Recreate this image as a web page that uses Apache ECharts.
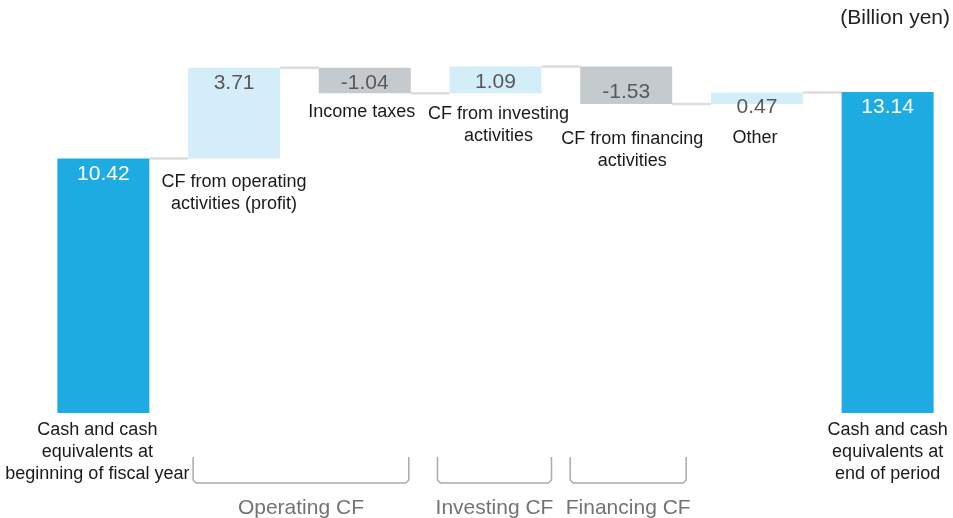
<!DOCTYPE html>
<html>
<head>
<meta charset="utf-8">
<script src="https://cdn.jsdelivr.net/npm/echarts@6/dist/echarts.min.js"></script>
<style>
  html, body { margin: 0; padding: 0; background: #ffffff; }
  #chart { width: 953px; height: 518px; }
</style>
</head>
<body>
<div id="chart"></div>
<script>
// data
var categories = [
    "Cash and cash\nequivalents at\nbeginning of fiscal year",
    "CF from operating\nactivities (profit)",
    "Income taxes",
    "CF from investing\nactivities",
    "CF from financing\nactivities",
    "Other",
    "Cash and cash\nequivalents at\nend of period"
];
var values = [10.42, 3.71, -1.04, 1.09, -1.53, 0.47, 13.14];
var isTotal = [true, false, false, false, false, false, true];
var groupNames = ["Operating CF", "Investing CF", "Financing CF"];
var groupStart = [1, 3, 4];
var groupEnd = [2, 3, 4];

// styling per bar / group
var labelGap = [6, 13, 8, 10, 24, 23, 6];
var labelShiftX = [-6, 0, -3, 3, 6, -2, 0];
var valueLabelPos = ["insideTop", "insideTop", "insideTop", "insideTop", "insideBottom", "insideTop", "insideTop"];
var valueLabelDist = [5, 5, 5, 5, 1, 4, 5];
var bracketPadL = [41, 58, 56];
var bracketPadR = [44, 56, 60];

function buildChart() {
    var myChart = echarts.init(document.getElementById("chart"));

    var BAR_W = 92;
    var FONT = "Liberation Sans, Arial, sans-serif";

    // waterfall: transparent base + visible bar
    var base = [], shown = [], bottoms = [], levels = [];
    var cum = 0;
    for (var i = 0; i < values.length; i++) {
        var v = values[i];
        var color, labelColor, h;
        if (isTotal[i]) {
            base.push(0);
            h = v;
            bottoms.push(0);
            cum = v;
            color = "#1eabe2";
            labelColor = "#ffffff";
        } else {
            var after = cum + v;
            base.push(Math.min(cum, after));
            h = Math.abs(v);
            bottoms.push(Math.min(cum, after));
            cum = after;
            color = v >= 0 ? "#d4eef9" : "#c5cace";
            labelColor = "#595959";
        }
        levels.push(cum);
        shown.push({
            value: h,
            itemStyle: { color: color },
            label: {
                position: valueLabelPos[i],
                distance: valueLabelDist[i],
                color: labelColor,
                formatter: v.toFixed(2)
            }
        });
    }

    var labelData = [], connData = [], bracketData = [];
    for (var i = 0; i < categories.length; i++) {
        labelData.push([i, bottoms[i], i]);
    }
    for (var i = 0; i < values.length - 1; i++) {
        connData.push([i, levels[i]]);
    }
    for (var g = 0; g < groupNames.length; g++) {
        bracketData.push([groupStart[g], groupEnd[g], g]);
    }

    var option = {
        animation: false,
        title: {
            text: "(Billion yen)",
            right: -2,
            top: 3,
            textStyle: { fontFamily: FONT, fontSize: 21, fontWeight: "normal", color: "#222222" }
        },
        grid: { left: 38, right: 0, top: 46.5, bottom: 105 },
        xAxis: {
            type: "category",
            data: categories,
            show: false
        },
        yAxis: {
            type: "value",
            min: 0,
            max: 15,
            show: false
        },
        series: [
            {
                name: "base",
                type: "bar",
                stack: "wf",
                barWidth: BAR_W,
                itemStyle: { color: "transparent" },
                data: base,
                silent: true
            },
            {
                name: "value",
                type: "bar",
                stack: "wf",
                barWidth: BAR_W,
                label: {
                    show: true,
                    fontFamily: FONT,
                    fontSize: 21
                },
                data: shown
            },
            {
                // connectors between bars
                name: "conn",
                type: "custom",
                silent: true,
                data: connData,
                renderItem: function (params, api) {
                    var idx = api.value(0);
                    var lv = api.value(1);
                    var p1 = api.coord([idx, lv]);
                    var p2 = api.coord([idx + 1, lv]);
                    return {
                        type: "line",
                        shape: { x1: p1[0] + BAR_W / 2, y1: p1[1], x2: p2[0] - BAR_W / 2, y2: p2[1] },
                        style: { stroke: "#dcdcdc", lineWidth: 2.5 }
                    };
                }
            },
            {
                // category labels under each bar
                name: "names",
                type: "custom",
                silent: true,
                data: labelData,
                renderItem: function (params, api) {
                    var idx = api.value(0);
                    var p = api.coord([idx, api.value(1)]);
                    return {
                        type: "text",
                        x: p[0] + labelShiftX[idx],
                        y: p[1] + labelGap[idx],
                        style: {
                            text: categories[idx],
                            align: "center",
                            verticalAlign: "top",
                            fontFamily: FONT,
                            fontSize: 18,
                            lineHeight: 22,
                            fill: "#1a1a1a"
                        }
                    };
                }
            },
            {
                // group brackets
                name: "groups",
                type: "custom",
                silent: true,
                clip: false,
                data: bracketData,
                renderItem: function (params, api) {
                    var g = api.value(2);
                    var a = api.coord([api.value(0), 0]);
                    var b = api.coord([api.value(1), 0]);
                    var x1 = a[0] - bracketPadL[g];
                    var x2 = b[0] + bracketPadR[g];
                    var yt = a[1] + 44;
                    var yb = a[1] + 70;
                    return {
                        type: "group",
                        children: [
                            {
                                type: "polyline",
                                shape: { points: [[x1, yt], [x1, yb - 3], [x1 + 3, yb], [x2 - 3, yb], [x2, yb - 3], [x2, yt]] },
                                style: { stroke: "#a3adb4", lineWidth: 1.5, fill: null }
                            },
                            {
                                type: "text",
                                x: (x1 + x2) / 2,
                                y: a[1] + 95,
                                style: {
                                    text: groupNames[g],
                                    align: "center",
                                    verticalAlign: "middle",
                                    fontFamily: FONT,
                                    fontSize: 21,
                                    fill: "#737373"
                                }
                            }
                        ]
                    };
                }
            }
        ]
    };

    myChart.setOption(option);
    window.addEventListener("resize", function () {
        myChart.resize();
    });
}

buildChart();
</script>
</body>
</html>
